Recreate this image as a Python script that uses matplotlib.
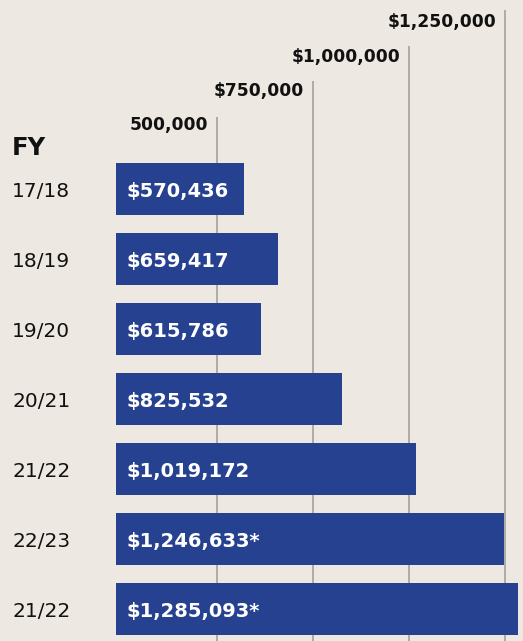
import matplotlib
matplotlib.use("Agg")
import matplotlib.pyplot as plt
from matplotlib.transforms import blended_transform_factory

# ---- data ----
categories = ["17/18", "18/19", "19/20", "20/21", "21/22", "22/23", "21/22"]
values = [570436, 659417, 615786, 825532, 1019172, 1246633, 1285093]
notes = ["", "", "", "", "", "*", "*"]
tick_values = [500000, 750000, 1000000, 1250000]
tick_labels = ["500,000", "$750,000", "$1,000,000", "$1,250,000"]
header = "FY"

BG = "#ede9e2"
BAR = "#26418f"
FONT = ["DejaVu Sans"]
plt.rcParams["font.family"] = FONT

W, H = 523, 641
fig = plt.figure(figsize=(W / 100, H / 100), dpi=100, facecolor=BG)
ax = fig.add_axes([116 / W, 0, 1 - 116 / W, 1])
ax.set_facecolor(BG)

x_min, x_max = 237000, 1297000
ax.set_xlim(x_min, x_max)
ax.set_ylim(6.457, -2.7)

y = list(range(len(categories)))
ax.barh(y, [v - x_min for v in values], left=x_min, height=0.74, color=BAR, zorder=3)

# staggered gridlines with labels
for k, (tv, tl) in enumerate(zip(tick_values, tick_labels)):
    top = -1.03 - 0.51 * k
    lab_y = -0.94 - 0.49 * k
    ax.vlines(tv, top, 6.5, color="#aaa7a2", linewidth=1.3, zorder=1)
    ax.annotate(tl, xy=(tv, lab_y), xytext=(-9, -2), textcoords="offset pixels",
                ha="right", va="center", fontsize=12.3, fontweight="bold", color="#111111")

# bar value labels
for i, (v, nt) in enumerate(zip(values, notes)):
    ax.annotate(f"${v:,}{nt}", xy=(x_min, i), xytext=(11, -2), textcoords="offset pixels",
                ha="left", va="center", fontsize=14, fontweight="bold", color="white", zorder=4)

# category labels
tr = blended_transform_factory(fig.transFigure, ax.transData)
for i, c in enumerate(categories):
    ax.text(12 / W, i + 0.03, c, transform=tr, ha="left", va="center", fontsize=14.5, color="#111111")
ax.text(12 / W, -0.59, header, transform=tr, ha="left", va="center", fontsize=17.5,
        fontweight="bold", color="#111111")

for s in ax.spines.values():
    s.set_visible(False)
ax.set_xticks([])
ax.set_yticks([])

fig.savefig("out.png", dpi=100, facecolor=BG)
